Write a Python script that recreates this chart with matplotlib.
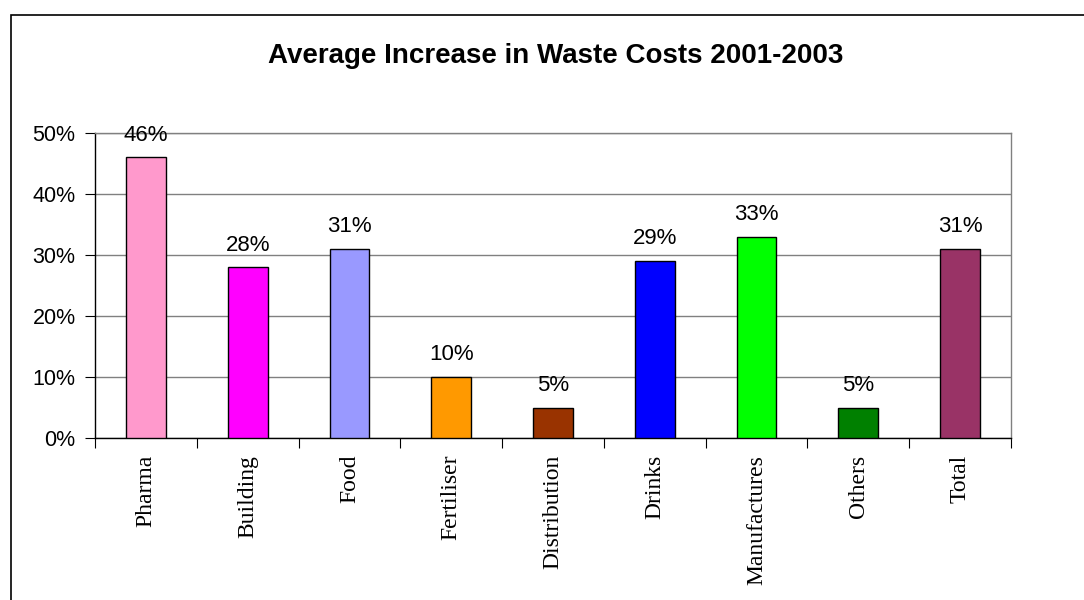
import matplotlib

matplotlib.use("Agg")
import matplotlib.pyplot as plt
from matplotlib.patches import Rectangle
from matplotlib.ticker import FuncFormatter, MultipleLocator

categories = ["Pharma", "Building", "Food", "Fertiliser", "Distribution",
              "Drinks", "Manufactures", "Others", "Total"]
increase_pct = [46, 28, 31, 10, 5, 29, 33, 5, 31]
bar_colors = ["#FF99CC", "#FF00FF", "#9999FF", "#FF9900", "#993300",
              "#0000FF", "#00FF00", "#008000", "#993366"]

W, H = 1084, 600
fig = plt.figure(figsize=(W / 100, H / 100), dpi=100)
fig.patch.set_facecolor("white")

# outer chart frame (runs off the right and bottom edges)
fig.patches.append(Rectangle((11 / W, -0.05), 1.2, 1 - 15 / H + 0.05,
                             transform=fig.transFigure, fill=False,
                             edgecolor="black", linewidth=1.2))

left, right, top, bottom = 95, 1011, 133, 438
ax = fig.add_axes([left / W, 1 - bottom / H, (right - left) / W, (bottom - top) / H])

x = range(len(categories))
ax.bar(x, increase_pct, width=0.39, color=bar_colors, edgecolor="black",
       linewidth=1.0, zorder=3)
for xi, v in zip(x, increase_pct):
    ax.annotate(f"{v}%", (xi, v), xytext=(0, 12), textcoords="offset points",
                ha="center", va="baseline", fontsize=16,
                family="Liberation Sans", zorder=4)

ax.set_xlim(-0.5, len(categories) - 0.5)
ax.set_ylim(0, 50)
ax.yaxis.set_major_locator(MultipleLocator(10))
ax.yaxis.set_major_formatter(FuncFormatter(lambda v, _: f"{v:.0f}%"))
ax.grid(axis="y", color="#808080", linewidth=1.0, zorder=0)

ax.set_xticks([i - 0.5 for i in range(len(categories) + 1)], minor=False)
ax.set_xticklabels([])
ax.set_xticks(list(x), minor=True)
ax.set_xticklabels(categories, minor=True, rotation=90, family="Liberation Serif",
                   fontsize=17)
ax.tick_params(axis="x", which="major", length=7, direction="out", color="black")
ax.tick_params(axis="x", which="minor", length=0, pad=12)
ax.tick_params(axis="y", length=7, direction="out", pad=7, labelsize=15.5)
for lbl in ax.get_yticklabels():
    lbl.set_family("Liberation Sans")

ax.spines["top"].set_color("#808080")
ax.spines["right"].set_color("#808080")
for s in ax.spines.values():
    s.set_linewidth(1.0)

fig.text(556 / W, 1 - 56 / H, "Average Increase in Waste Costs 2001-2003",
         ha="center", va="center", fontsize=20, fontweight="bold",
         family="Liberation Sans")

fig.savefig("out.png", dpi=100)
